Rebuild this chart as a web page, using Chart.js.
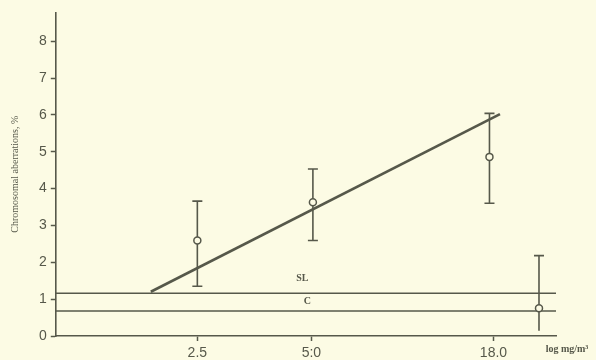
<!DOCTYPE html>
<html>
<head>
<meta charset="utf-8">
<script src="https://cdn.jsdelivr.net/npm/chart.js@4/dist/chart.umd.min.js"></script>
<style>
  html, body { margin: 0; padding: 0; background: #fcfbe4; }
  #wrap { width: 596px; height: 360px; }
</style>
</head>
<body>
<div id="wrap"><canvas id="chart"></canvas></div>
<script>
// Chromosomal aberrations vs dose (log mg/m3)

// x positions on the (hand drawn) log axis, 0..10 = axis length
const doseTickPos = [2.83, 5.11, 8.75];
const doseTickLabels = ["2.5", "5:0", "18.0"];

// measured points with error bars
const pointX = [2.83, 5.14, 8.67, 9.66];
const pointY = [2.59, 3.63, 4.86, 0.75];
const errUpper = [3.66, 4.53, 6.04, 2.18];
const errLower = [1.35, 2.59, 3.6, 0.14];

// regression line end points
const fitX = [1.9, 8.88];
const fitY = [1.2, 6.02];

// reference levels
const slLevel = 1.16;
const cLevel = 0.68;

const yTicks = [0, 1, 2, 3, 4, 5, 6, 7, 8];

const ink = "#56584a";
const paper = "#fcfbe4";

// error bars + SL / C / unit labels
const extras = {
  id: "extras",
  afterDatasetsDraw(chart) {
    const { ctx, scales } = chart;
    const x = scales.x, y = scales.y;
    ctx.save();
    ctx.strokeStyle = ink;
    ctx.lineWidth = 1.6;
    pointX.forEach((px, i) => {
      const cx = x.getPixelForValue(px);
      const top = y.getPixelForValue(errUpper[i]);
      const bot = y.getPixelForValue(errLower[i]);
      const r = chart.getDatasetMeta(0).data[i].options.radius;
      ctx.beginPath();
      ctx.moveTo(cx, top);
      ctx.lineTo(cx, y.getPixelForValue(pointY[i]) - r);
      ctx.moveTo(cx, y.getPixelForValue(pointY[i]) + r);
      ctx.lineTo(cx, bot);
      ctx.moveTo(cx - 5, top);
      ctx.lineTo(cx + 5, top);
      if (errLower[i] > 0.5) {
        ctx.moveTo(cx - 5, bot);
        ctx.lineTo(cx + 5, bot);
      }
      ctx.stroke();
    });
    ctx.fillStyle = ink;
    ctx.font = "bold 10px 'Liberation Serif'";
    ctx.textAlign = "center";
    ctx.textBaseline = "middle";
    ctx.fillText("SL", x.getPixelForValue(4.93), y.getPixelForValue(1.55));
    ctx.fillText("C", x.getPixelForValue(5.03), y.getPixelForValue(0.93));
    ctx.fillText("log mg/m\u00B3", 567, 349);
    ctx.restore();
  },
};

new Chart(document.getElementById("chart"), {
  type: "scatter",
  data: {
    datasets: [
      {
        label: "points",
        data: pointX.map((v, i) => ({ x: v, y: pointY[i] })),
        pointRadius: 3.5,
        pointBackgroundColor: paper,
        pointBorderColor: ink,
        pointBorderWidth: 1.5,
        order: 0,
      },
      {
        type: "line",
        label: "fit",
        data: fitX.map((v, i) => ({ x: v, y: fitY[i] })),
        borderColor: ink,
        borderWidth: 2.6,
        pointRadius: 0,
        order: 1,
      },
      {
        type: "line",
        label: "SL",
        data: [{ x: 0, y: slLevel }, { x: 10, y: slLevel }],
        borderColor: ink,
        borderWidth: 1.5,
        pointRadius: 0,
        order: 2,
      },
      {
        type: "line",
        label: "C",
        data: [{ x: 0, y: cLevel }, { x: 10, y: cLevel }],
        borderColor: ink,
        borderWidth: 1.5,
        pointRadius: 0,
        order: 2,
      },
    ],
  },
  options: {
    responsive: true,
    maintainAspectRatio: false,
    animation: false,
    layout: { padding: { top: 10, right: 40, bottom: -5, left: 9 } },
    plugins: { legend: { display: false }, tooltip: { enabled: false } },
    scales: {
      x: {
        type: "linear",
        min: 0,
        max: 10,
        afterBuildTicks: (axis) => {
          axis.ticks = doseTickPos.map((v) => ({ value: v }));
        },
        ticks: {
          autoSkip: false,
          maxRotation: 0,
          color: ink,
          padding: 5,
          font: { family: "'Liberation Sans'", size: 14, lineHeight: 1 },
          callback: (v, i) => doseTickLabels[i],
        },
        grid: {
          drawOnChartArea: false,
          tickLength: 5,
          tickColor: ink,
          tickWidth: 1.5,
        },
        border: { color: ink, width: 1.6 },
      },
      y: {
        type: "linear",
        min: 0,
        max: 8.78,
        afterBuildTicks: (axis) => {
          axis.ticks = yTicks.map((v) => ({ value: v }));
        },
        ticks: {
          color: ink,
          padding: 4,
          font: { family: "'Liberation Sans'", size: 14 },
        },
        grid: {
          drawOnChartArea: false,
          tickLength: 5,
          tickColor: ink,
          tickWidth: 1.5,
        },
        border: { color: ink, width: 1.6 },
        title: {
          display: true,
          text: "Chromosomal aberrations, %",
          color: ink,
          padding: { top: 0, bottom: 14 },
          font: { family: "'Liberation Serif'", size: 10 },
        },
      },
    },
  },
  plugins: [extras],
});
</script>
</body>
</html>
